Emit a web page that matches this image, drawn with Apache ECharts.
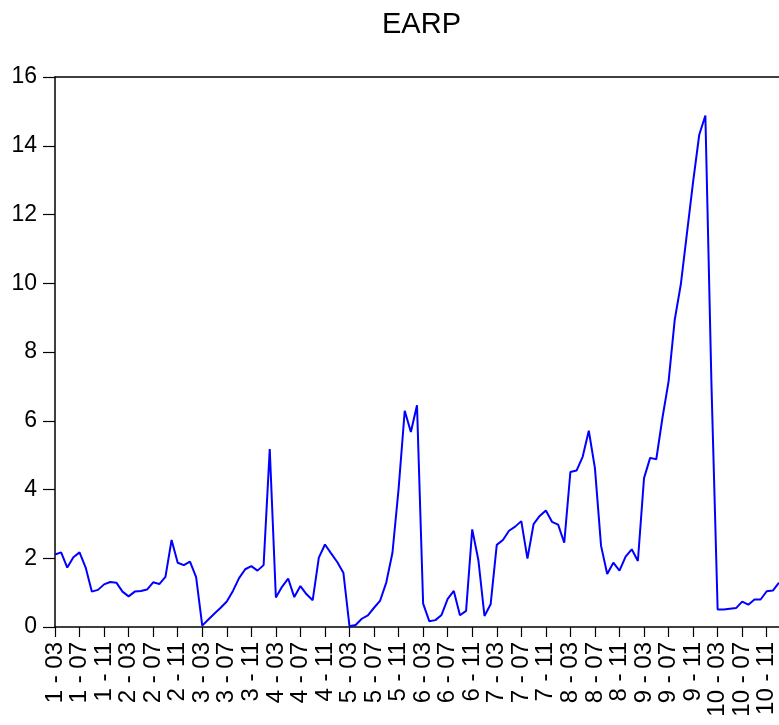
<!DOCTYPE html>
<html>
<head>
<meta charset="utf-8">
<script src="https://cdn.jsdelivr.net/npm/echarts@6/dist/echarts.min.js"></script>
<style>
  html, body { margin: 0; padding: 0; background: #fff; }
  #chart { width: 779px; height: 725px; }
</style>
</head>
<body>
<div id="chart"></div>
<script>
// Monthly EARP series, March 2001 through January 2011
const startYear = 2001;
const startMonth = 3;
const earp = [
  2.11, 2.17, 1.73, 2.03, 2.17, 1.73, 1.03, 1.08, 1.24, 1.31, 1.29, 1.03,
  0.89, 1.03, 1.05, 1.09, 1.30, 1.25, 1.46, 2.53, 1.87, 1.80, 1.90, 1.45,
  0.04, 0.22, 0.39, 0.56, 0.74, 1.05, 1.42, 1.68, 1.77, 1.64, 1.80, 5.18,
  0.86, 1.17, 1.41, 0.87, 1.19, 0.95, 0.78, 2.02, 2.40, 2.14, 1.89, 1.58,
  0.02, 0.06, 0.24, 0.34, 0.56, 0.77, 1.30, 2.16, 4.02, 6.29, 5.67, 6.45,
  0.68, 0.17, 0.20, 0.35, 0.82, 1.05, 0.34, 0.47, 2.84, 1.95, 0.32, 0.66,
  2.39, 2.53, 2.80, 2.92, 3.08, 1.99, 2.99, 3.23, 3.39, 3.06, 2.98, 2.45,
  4.51, 4.55, 4.95, 5.71, 4.62, 2.36, 1.54, 1.87, 1.64, 2.05, 2.26, 1.92,
  4.33, 4.92, 4.88, 6.08, 7.14, 8.93, 9.97, 11.46, 12.95, 14.32, 14.88, 7.00,
  0.51, 0.51, 0.53, 0.55, 0.74, 0.65, 0.80, 0.80, 1.04, 1.06, 1.29
];

// Category labels in the "Y - MM" form (year counted from 2000)
const categories = [];
for (let i = 0; i < earp.length; i++) {
  const m0 = startMonth - 1 + i;
  const y = startYear + Math.floor(m0 / 12) - 2000;
  const m = (m0 % 12) + 1;
  categories.push(y + ' - ' + (m < 10 ? '0' + m : '' + m));
}

const fontFamily = '"Liberation Sans", Arial, Helvetica, sans-serif';
const chart = echarts.init(document.getElementById('chart'), null, { renderer: 'canvas' });

chart.setOption({
  backgroundColor: '#ffffff',
  animation: false,
  title: {
    text: 'EARP',
    left: 377,
    top: 5,
    textStyle: { fontFamily, fontSize: 29, fontWeight: 'normal', color: '#000' }
  },
  grid: { left: 55, top: 77, right: 0, bottom: 98, containLabel: false },
  xAxis: [
    {
      type: 'category',
      data: categories,
      boundaryGap: false,
      axisLine: { lineStyle: { color: '#000', width: 1.5 } },
      axisTick: { interval: 3, length: 10, lineStyle: { color: '#000', width: 1.2 } },
      axisLabel: {
        interval: 3,
        rotate: 90,
        margin: 15,
        fontFamily,
        fontSize: 24,
        color: '#000'
      },
      splitLine: { show: false }
    },
    {
      type: 'category',
      data: categories,
      position: 'top',
      boundaryGap: false,
      axisLine: { lineStyle: { color: '#000', width: 1.5 } },
      axisTick: { show: false },
      axisLabel: { show: false },
      splitLine: { show: false }
    }
  ],
  yAxis: {
    type: 'value',
    min: 0,
    max: 16,
    interval: 2,
    axisLine: { show: true, lineStyle: { color: '#000', width: 1.5 } },
    axisTick: { show: true, length: 12, lineStyle: { color: '#000', width: 1.2 } },
    axisLabel: { margin: 18, fontFamily, fontSize: 23, color: '#000' },
    splitLine: { show: false }
  },
  series: [
    {
      name: 'EARP',
      type: 'line',
      data: earp,
      xAxisIndex: 0,
      showSymbol: false,
      symbol: 'none',
      lineStyle: { color: '#0000ff', width: 2 },
      clip: true
    }
  ]
});
</script>
</body>
</html>
